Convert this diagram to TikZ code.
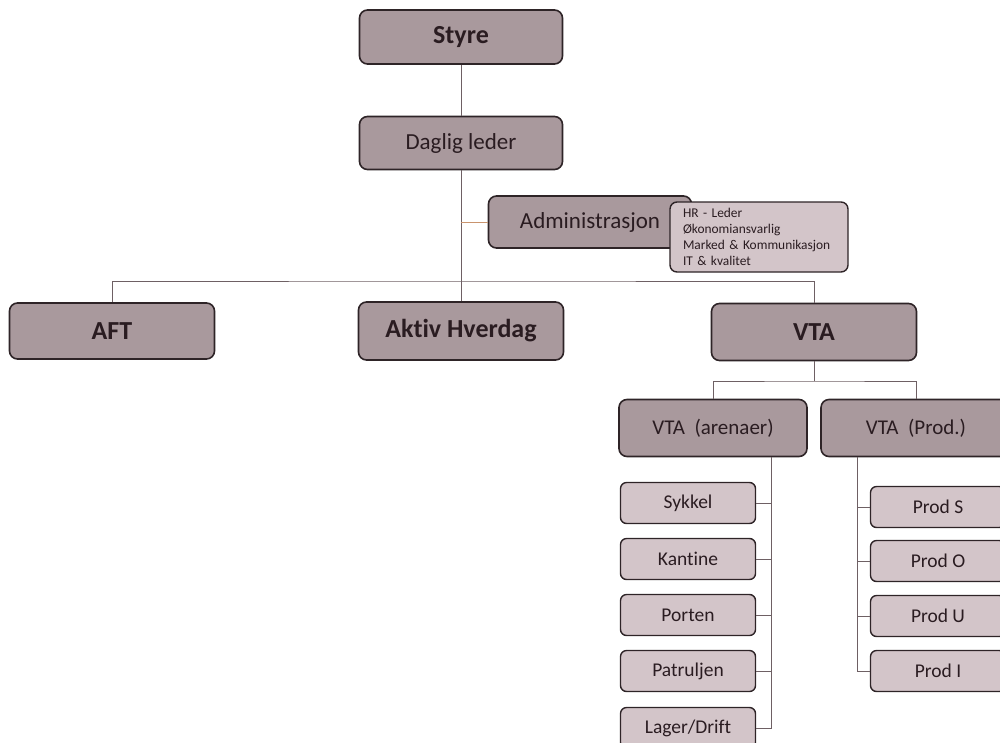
\documentclass[tikz,border=0pt]{standalone}
\usepackage{fontspec}
\setmainfont{Carlito}[Ligatures = NoCommon]
\definecolor{boxdark}{HTML}{A9999D}
\definecolor{boxlight}{HTML}{D3C5C9}
\definecolor{boxline}{HTML}{2E2427}
\definecolor{txt}{HTML}{2A1C21}
\definecolor{conn}{HTML}{6E6064}
\definecolor{adminconn}{HTML}{C9946E}
\begin{document}
\begin{tikzpicture}[x = 1pt, y = -1pt,
		mainbox/.style = {draw = boxline, fill = boxdark, line width = 1.6pt, rounded corners = 8pt,
			text = txt, inner sep = 0pt, align = center},
		subbox/.style = {draw = boxline, fill = boxlight, line width = 1.4pt, rounded corners = 6pt,
			text = txt, inner sep = 0pt, align = center, minimum width = 135pt, minimum height = 41pt,
			font = \fontsize{19.5}{22}\selectfont},
		conn/.style = {draw = conn, line width = 0.9pt}]
		\useasboundingbox (0, 0) rectangle (1000, 742);
		% top
		\node[mainbox, minimum width = 203pt, minimum height = 54pt, font = \fontsize{26}{30}\selectfont\bfseries] (styre) at (461, 37) {Styre};
		\node[mainbox, minimum width = 203pt, minimum height = 53pt, font = \fontsize{23}{27}\selectfont] (daglig) at (461, 143) {Daglig leder};
		\node[mainbox, minimum width = 203pt, minimum height = 52pt, font = \fontsize{23}{27}\selectfont] (admin) at (590, 222) {Administrasjon};
		\node[mainbox, fill = boxlight, line width = 1.4pt, rounded corners = 7pt, minimum width = 178pt, minimum height = 70pt,
			align = left, text width = 152pt, font = \fontsize{13.4}{15.8}\selectfont] (adminlist) at (759, 237)
			{HR - Leder\\Økonomiansvarlig\\Marked \& Kommunikasjon\\IT \& kvalitet};
		%%%%%%%%%
		\node[mainbox, minimum width = 205pt, minimum height = 56pt, font = \fontsize{26}{30}\selectfont\bfseries] (aft) at (112, 331) {AFT};
		\node[mainbox, minimum width = 205pt, minimum height = 58pt, font = \fontsize{26}{30}\selectfont\bfseries] (aktiv) at (461, 331) {Aktiv Hverdag};
		\node[mainbox, minimum width = 205pt, minimum height = 57pt, font = \fontsize{26}{30}\selectfont\bfseries] (vta) at (814, 332) {VTA};
		%%%%%%%%%
		\node[mainbox, minimum width = 188pt, minimum height = 57pt, font = \fontsize{21}{25}\selectfont] (arena) at (713, 428) {VTA~~(arenaer)};
		\node[mainbox, minimum width = 190pt, minimum height = 57pt, font = \fontsize{21}{25}\selectfont] (prod) at (916, 428) {VTA~~(Prod.)};
		%%%%%%%%%
		\node[subbox] (sykkel) at (688, 503) {Sykkel};
		\node[subbox] (kantine) at (688, 559) {Kantine};
		\node[subbox] (porten) at (688, 615) {Porten};
		\node[subbox] (patruljen) at (688, 671) {Patruljen};
		\node[subbox] (lager) at (688, 728) {Lager/Drift};
		\node[subbox] (prods) at (938, 507) {Prod S};
		\node[subbox] (prodo) at (938, 561) {Prod O};
		\node[subbox] (produ) at (938, 616) {Prod U};
		\node[subbox] (prodi) at (938, 671) {Prod I};
		%%%%%%%%%
		\coordinate (bus) at (461, 281);
		\coordinate (vtabus) at (814, 381);
		\coordinate (arenaspine) at (771, 457);
		\coordinate (prodspine) at (857, 457);
		\draw[conn] (styre) -- (daglig);
		\draw[conn] (daglig) -- (aktiv);
		\draw[draw = adminconn, line width = 0.9pt] (daglig.south |- admin.west) -- (admin.west);
		\draw[conn] (aft.north) |- (bus) -| (vta.north);
		\draw[conn] (vta) -- (vtabus);
		\draw[conn] (arena.north) |- (vtabus) -| (prod.north);
		\draw[conn] (arenaspine) |- (lager.east);
		\draw[conn] (sykkel.east) -- (sykkel.east -| arenaspine);
		\draw[conn] (kantine.east) -- (kantine.east -| arenaspine);
		\draw[conn] (porten.east) -- (porten.east -| arenaspine);
		\draw[conn] (patruljen.east) -- (patruljen.east -| arenaspine);
		\draw[conn] (prodspine) |- (prodi.west);
		\draw[conn] (prods.west) -- (prods.west -| prodspine);
		\draw[conn] (prodo.west) -- (prodo.west -| prodspine);
		\draw[conn] (produ.west) -- (produ.west -| prodspine);
	\end{tikzpicture}
\end{document}
